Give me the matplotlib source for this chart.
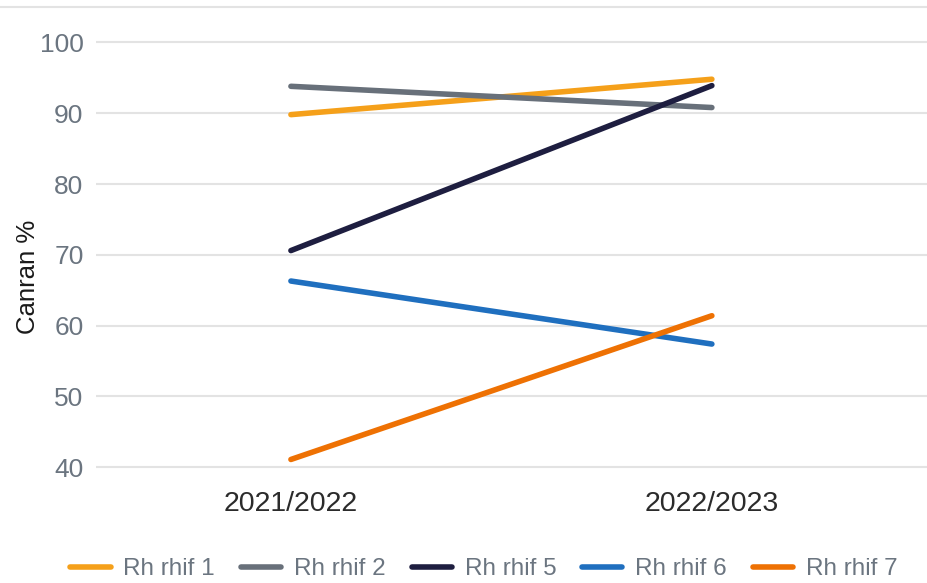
import matplotlib.pyplot as plt
from matplotlib.lines import Line2D

plt.rcParams['font.family'] = ['Liberation Sans', 'DejaVu Sans']

years = ['2021/2022', '2022/2023']
series_names = ['Rh rhif 1', 'Rh rhif 2', 'Rh rhif 5', 'Rh rhif 6', 'Rh rhif 7']
rhif_1 = [89.8, 94.8]
rhif_2 = [93.8, 90.8]
rhif_5 = [70.6, 93.9]
rhif_6 = [66.3, 57.4]
rhif_7 = [41.1, 61.4]
colors = ['#F5A01A', '#68707A', '#1E1E40', '#1F6FBF', '#EE7103']

fig = plt.figure(figsize=(9.27, 5.83), dpi=100)
ax = fig.add_axes([96 / 927, 1 - 480 / 583, 831 / 927, 473 / 583])

x = list(range(len(years)))
for vals, name, c in zip([rhif_1, rhif_2, rhif_5, rhif_6, rhif_7], series_names, colors):
    ax.plot(x, vals, color=c, lw=4, solid_capstyle='round', label=name, zorder=3)

ax.set_xlim(-0.463, 1.511)
ax.set_ylim(38.2, 105)
ax.set_yticks([40, 50, 60, 70, 80, 90, 100])
ax.set_xticks(x)
ax.set_xticklabels(years)
ax.yaxis.grid(True, color='#E3E3E3', lw=1.5)
ax.set_axisbelow(True)
for s in ax.spines.values():
    s.set_visible(False)
ax.tick_params(axis='y', length=0, pad=9, labelsize=19, labelcolor='#6B7580')
ax.tick_params(axis='x', length=0, pad=8, labelsize=20.5, labelcolor='#2B2B2B')
ax.set_ylabel('Canran %', fontsize=18.5, color='#1A1A1A')
ax.yaxis.set_label_coords(-(96 - 40) / 831, (480 - 277) / 473)

# thin rule across the top of the figure
fig.add_artist(Line2D([0, 1], [1 - 7 / 583, 1 - 7 / 583], color='#E3E3E3', lw=1.5))

leg = fig.legend(loc='center', bbox_to_anchor=(484 / 927, 1 - 569 / 583), ncol=5, frameon=False,
                 fontsize=17.5, handlelength=1.65, columnspacing=1.07, handletextpad=0.53)
for t in leg.get_texts():
    t.set_color('#6B7580')

fig.savefig('out.png', dpi=100)
